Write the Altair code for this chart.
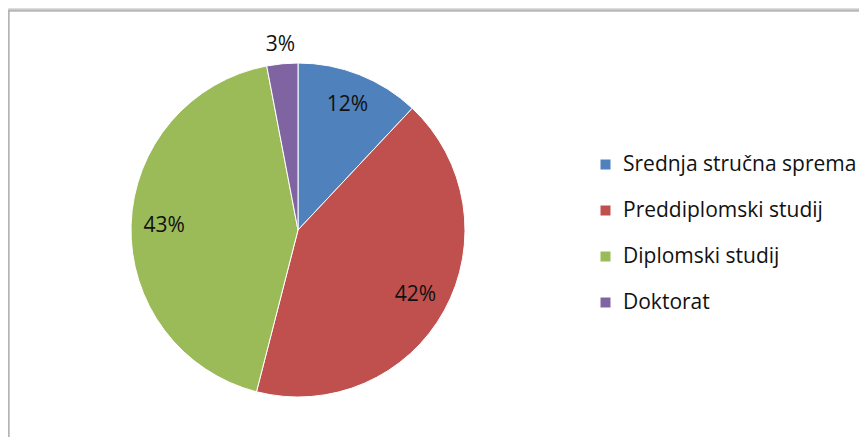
import altair as alt
import pandas as pd

categories = ["Srednja stručna sprema", "Preddiplomski studij", "Diplomski studij", "Doktorat"]
values = [12, 42, 43, 3]
labels = ["12%", "42%", "43%", "3%"]
colors = ["#4F81BD", "#C0504D", "#9BBB59", "#8064A2"]

df = pd.DataFrame({
    "kategorija": categories,
    "vrijednost": values,
    "oznaka": labels,
    "red": list(range(len(categories))),
})

CX, CY, R = 290, 222, 167
FONT = "Open Sans"
TXT = "#111111"

pie = alt.Chart(df).mark_arc(radius=R, stroke="white", strokeWidth=1).encode(
    theta=alt.Theta("vrijednost:Q", stack=True),
    order=alt.Order("red:O"),
    x=alt.value(CX),
    y=alt.value(CY),
    color=alt.Color(
        "kategorija:N",
        scale=alt.Scale(domain=categories, range=colors),
        sort=categories,
        legend=alt.Legend(
            title=None,
            orient="none",
            legendX=587,
            legendY=146,
            symbolType="square",
            symbolSize=100,
            symbolStrokeWidth=0,
            labelFont=FONT,
            labelFontSize=21,
            labelColor=TXT,
            labelLimit=400,
            labelOffset=7,
            rowPadding=24,
        ),
    ),
)

stacked = alt.Chart(df).transform_window(
    cum="sum(vrijednost)", sort=[alt.SortField("red")], frame=[None, 0]
).transform_joinaggregate(total="sum(vrijednost)").transform_calculate(
    start="(datum.cum - datum.vrijednost) / datum.total * 2 * PI",
    end="datum.cum / datum.total * 2 * PI",
    mid="(datum.start + datum.end) / 2",
)

inner = stacked.mark_text(radius=134, font=FONT, fontSize=21, color=TXT).encode(
    x=alt.value(CX),
    y=alt.value(CY),
    theta=alt.Theta("mid:Q", scale=None),
    text="oznaka:N",
).transform_filter(alt.datum.vrijednost >= 5)

outer = stacked.mark_text(radius=186, font=FONT, fontSize=21, color=TXT).encode(
    x=alt.value(CX),
    y=alt.value(CY),
    theta=alt.Theta("mid:Q", scale=None),
    text="oznaka:N",
).transform_filter(alt.datum.vrijednost < 5)

frame_top = alt.Chart(df).mark_rule(color="#b5b5b5", strokeWidth=1.5).encode(
    x=alt.value(0.5), x2=alt.value(860), y=alt.value(2.5)
)
frame_left = alt.Chart(df).mark_rule(color="#b5b5b5", strokeWidth=1.5).encode(
    x=alt.value(0.5), y=alt.value(2.5), y2=alt.value(440)
)

chart = alt.layer(frame_top, frame_left, pie, inner, outer).properties(
    width=851,
    height=429,
    padding=0,
    autosize=alt.AutoSizeParams(type="none"),
).configure_view(stroke=None).configure(background="white")

chart.save("out.html", embed_options={"renderer": "svg", "actions": False})
